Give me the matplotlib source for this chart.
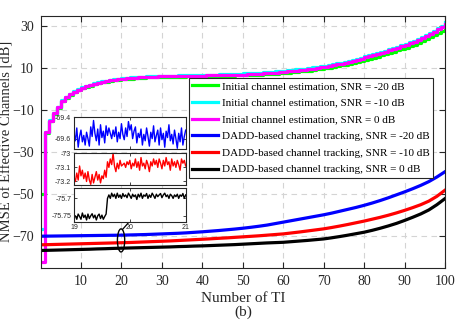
import numpy as np
import matplotlib
matplotlib.use("Agg")
import matplotlib.pyplot as plt
from matplotlib.patches import Ellipse

# ---------------- data ----------------
ti_init = list(range(0, 101))          # stairs positions (TI)
init_first = {"g": -50.0, "c": -66.7, "m": -82.5}   # value before TI 1

init_m = [-20.5, -15, -11.5, -8.5, -5.5, -3.8, -2.3, -1.2, -0.2, 0.7,
          1.4, 2.0, 2.6, 3.1, 3.5, 3.9, 4.2, 4.5, 4.8, 5.0,
          5.2, 5.4, 5.55, 5.7, 5.8, 5.9, 6.0, 6.05, 6.1, 6.15,
          6.2, 6.25, 6.3, 6.3, 6.35, 6.4, 6.4, 6.45, 6.5, 6.5,
          6.55, 6.6, 6.6, 6.65, 6.7, 6.75, 6.8, 6.85, 6.9, 7.0,
          7.1, 7.2, 7.3, 7.4, 7.5, 7.65, 7.8, 7.95, 8.1, 8.3,
          8.5, 8.7, 8.9, 9.1, 9.35, 9.6, 9.85, 10.1, 10.35, 10.6,
          11.0, 11.4, 11.8, 12.2, 12.6, 13.1, 13.6, 14.1, 14.6, 15.2,
          15.7, 16.2, 16.8, 17.3, 17.9, 18.5, 19.1, 19.7, 20.4, 21.1,
          21.8, 22.6, 23.4, 24.3, 25.2, 26.2, 27.3, 28.5, 29.8, 31.2]

init_c = [-20.3, -14.8, -11.3, -8.3, -5.3, -3.6, -2.1, -1.0, 0.0, 0.9,
          1.6, 2.2, 2.8, 3.3, 3.7, 4.1, 4.4, 4.7, 5.0, 5.2,
          5.4, 5.6, 5.75, 5.9, 6.0, 6.1, 6.2, 6.25, 6.3, 6.35,
          6.4, 6.45, 6.5, 6.55, 6.6, 6.65, 6.7, 6.75, 6.8, 6.85,
          6.9, 6.95, 7.0, 7.05, 7.1, 7.15, 7.2, 7.3, 7.4, 7.5,
          7.6, 7.7, 7.8, 7.9, 8.0, 8.15, 8.3, 8.45, 8.6, 8.8,
          9.0, 9.2, 9.4, 9.6, 9.85, 10.1, 10.35, 10.6, 10.85, 11.1,
          11.5, 11.9, 12.3, 12.7, 13.1, 13.6, 14.1, 14.6, 15.1, 15.7,
          16.2, 16.7, 17.3, 17.8, 18.4, 19.0, 19.6, 20.2, 20.9, 21.6,
          22.3, 23.1, 23.9, 24.8, 25.7, 26.7, 27.8, 29.0, 30.3, 31.8]

init_g = [-20.8, -15.3, -11.8, -8.8, -5.8, -4.1, -2.6, -1.5, -0.5, 0.4,
          1.1, 1.7, 2.3, 2.8, 3.2, 3.6, 3.9, 4.2, 4.5, 4.7,
          4.9, 5.1, 5.25, 5.4, 5.5, 5.6, 5.7, 5.75, 5.8, 5.85,
          5.9, 5.95, 6.0, 6.0, 6.05, 6.1, 6.1, 6.15, 6.2, 6.2,
          6.25, 6.3, 6.3, 6.35, 6.4, 6.45, 6.5, 6.55, 6.6, 6.65,
          6.7, 6.8, 6.9, 7.0, 7.1, 7.2, 7.3, 7.45, 7.6, 7.75,
          7.9, 8.1, 8.3, 8.5, 8.7, 8.9, 9.15, 9.4, 9.65, 9.9,
          10.2, 10.55, 10.9, 11.3, 11.7, 12.1, 12.55, 13.0, 13.5, 14.0,
          14.5, 15.0, 15.55, 16.1, 16.65, 17.25, 17.85, 18.45, 19.1, 19.8,
          20.5, 21.25, 22.0, 22.85, 23.7, 24.65, 25.65, 26.75, 27.95, 29.4]

ti_dadd = list(range(0, 101, 2))
dadd_blue = [-70.0, -69.95, -69.9, -69.85, -69.8, -69.75, -69.7, -69.65, -69.6, -69.55,
             -69.5, -69.4, -69.3, -69.2, -69.05, -68.9, -68.75, -68.6, -68.4, -68.15,
             -67.9, -67.6, -67.3, -66.95, -66.6, -66.2, -65.75, -65.25, -64.7, -64.0,
             -63.3, -62.6, -61.9, -61.2, -60.5, -59.8, -59.0, -58.1, -57.2, -56.3,
             -55.3, -54.2, -53.0, -51.7, -50.3, -48.9, -47.4, -45.8, -44.0, -41.8, -39.3]
dadd_red = [-74.1, -74.0, -73.9, -73.8, -73.7, -73.6, -73.5, -73.4, -73.3, -73.2,
            -73.1, -73.0, -72.85, -72.7, -72.55, -72.4, -72.25, -72.05, -71.85, -71.65,
            -71.45, -71.25, -71.0, -70.8, -70.55, -70.3, -70.05, -69.8, -69.5, -69.2,
            -68.9, -68.45, -68.0, -67.5, -67.0, -66.5, -65.85, -65.15, -64.4, -63.6,
            -62.8, -61.9, -61.0, -60.0, -58.9, -57.7, -56.4, -55.0, -53.3, -51.0, -48.1]
dadd_black = [-76.8, -76.7, -76.6, -76.5, -76.4, -76.3, -76.2, -76.05, -75.95, -75.8,
              -75.7, -75.6, -75.5, -75.4, -75.3, -75.2, -75.1, -74.95, -74.85, -74.7,
              -74.6, -74.45, -74.3, -74.15, -74.0, -73.8, -73.6, -73.4, -73.2, -73.05,
              -72.9, -72.6, -72.3, -72.0, -71.65, -71.3, -70.75, -70.15, -69.5, -68.8,
              -68.1, -67.2, -66.2, -65.1, -63.9, -62.5, -61.0, -59.4, -57.5, -55.0, -52.1]

# zoomed inset data (TI 19..21)
zoom_blue = [-69.55, -69.62, -69.50, -69.68, -69.58, -69.52, -69.63, -69.57, -69.66, -69.54,
             -69.60, -69.67, -69.49, -69.58, -69.43, -69.55, -69.62, -69.51, -69.66, -69.47,
             -69.59, -69.53, -69.64, -69.48, -69.57, -69.50, -69.55, -69.60, -69.52, -69.58,
             -69.49, -69.63, -69.54, -69.60, -69.46, -69.56, -69.61, -69.50, -69.58, -69.44,
             -69.52, -69.47, -69.60, -69.53, -69.49, -69.64, -69.55, -69.59, -69.51, -69.66,
             -69.56, -69.62, -69.50, -69.58, -69.67, -69.54, -69.60, -69.48, -69.63, -69.57,
             -69.52, -69.66, -69.50, -69.61, -69.55, -69.68, -69.53, -69.59, -69.47, -69.62,
             -69.56, -69.65, -69.52, -69.60, -69.69, -69.55, -69.63, -69.50, -69.66, -69.58, -69.52]
zoom_red = [-73.17, -73.20, -73.14, -73.19, -73.09, -73.16, -73.12, -73.18, -73.14, -73.20,
            -73.13, -73.19, -73.22, -73.15, -73.21, -73.17, -73.13, -73.19, -73.15, -73.21,
            -73.16, -73.18, -73.12, -73.17, -73.06, -73.10, -73.04, -73.08, -73.00, -73.09,
            -73.13, -73.07, -73.11, -73.05, -73.09, -73.08, -73.07, -73.10, -73.06, -73.08,
            -73.05, -73.11, -73.07, -73.09, -73.04, -73.10, -73.06, -73.12, -73.03, -73.09,
            -73.07, -73.11, -73.05, -73.08, -73.13, -73.06, -73.09, -73.04, -73.08, -73.05,
            -73.10, -73.04, -73.07, -73.11, -73.05, -73.09, -73.03, -73.08, -73.06, -73.12,
            -73.04, -73.09, -73.06, -73.10, -73.05, -73.08, -73.12, -73.04, -73.07, -73.05, -73.09]
zoom_black = [-75.755, -75.75, -75.76, -75.745, -75.752, -75.76, -75.742, -75.755, -75.748, -75.762,
              -75.745, -75.758, -75.75, -75.744, -75.756, -75.748, -75.762, -75.75, -75.745, -75.758,
              -75.748, -75.76, -75.752, -75.745, -75.70, -75.69, -75.70, -75.685, -75.695, -75.688,
              -75.70, -75.685, -75.697, -75.69, -75.70, -75.686, -75.695, -75.69, -75.698, -75.685,
              -75.692, -75.70, -75.688, -75.695, -75.69, -75.703, -75.688, -75.696, -75.685, -75.70,
              -75.69, -75.694, -75.686, -75.70, -75.69, -75.697, -75.685, -75.692, -75.70, -75.688,
              -75.695, -75.69, -75.686, -75.698, -75.69, -75.685, -75.695, -75.69, -75.70, -75.688,
              -75.692, -75.70, -75.69, -75.695, -75.688, -75.70, -75.69, -75.694, -75.686, -75.70, -75.69]

labels = ["Initial channel estimation, SNR = -20 dB",
          "Initial channel estimation, SNR = -10 dB",
          "Initial channel estimation, SNR = 0 dB",
          "DADD-based channel tracking, SNR = -20 dB",
          "DADD-based channel tracking, SNR = -10 dB",
          "DADD-based channel tracking, SNR = 0 dB"]

xticks = [10, 20, 30, 40, 50, 60, 70, 80, 90, 100]
yticks = [30, 10, -10, -30, -50, -70]
inset_xticks = [19, 20, 21]
inset_blue_yticks = [-69.4, -69.6]
inset_blue_ylabels = ["-69.4", "-69.6"]
inset_red_yticks = [-73.0, -73.1, -73.2]
inset_red_ylabels = ["-73", "-73.1", "-73.2"]
inset_black_yticks = [-75.7, -75.75]
inset_black_ylabels = ["-75.7", "-75.75"]

# ---------------- figure ----------------
plt.rcParams['font.family'] = ['Liberation Serif', 'DejaVu Serif']
fig = plt.figure(figsize=(4.57, 3.26), dpi=100)
ax = fig.add_axes([0.0888, 0.1788, 0.8849, 0.7730])

lw = 2.3
ax.grid(True, linestyle=(0, (5, 4)), color='#d4d4d4', linewidth=0.8)
ax.set_axisbelow(True)

ax.step(ti_init, [init_first["g"]] + init_g, where='post', color='#00ff00', lw=lw, label=labels[0])
ax.step(ti_init, [init_first["c"]] + init_c, where='post', color='#00ffff', lw=lw, label=labels[1])
ax.step(ti_init, [init_first["m"]] + init_m, where='post', color='#ff00ff', lw=lw, label=labels[2])
ax.plot(ti_dadd, dadd_blue, color='#0000ff', lw=lw, label=labels[3])
ax.plot(ti_dadd, dadd_red, color='#ff0000', lw=lw, label=labels[4])
ax.plot(ti_dadd, dadd_black, color='#000000', lw=lw, label=labels[5])

ax.set_xlim(0, 100)
ax.set_ylim(-85, 35)
ax.set_xticks(xticks)
ax.set_yticks(yticks)
ax.tick_params(direction='in', length=4, width=0.8, top=True, right=True,
               labelsize=10, colors='#262626', pad=5)
for s in ax.spines.values():
    s.set_linewidth(0.8)
    s.set_color('#262626')

ax.set_xlabel("Number of TI", fontsize=11, labelpad=3, color='#262626')
ax.set_ylabel("NMSE of Effective Channels [dB]", fontsize=10.5, color='#262626')
ax.yaxis.set_label_coords(-0.068, 0.5)
fig.text(0.532, 0.043, "(b)", fontsize=11, ha='center', va='center', color='#262626')

leg = ax.legend(loc='upper left', bbox_to_anchor=(0.367, 0.753), fontsize=8,
                frameon=True, fancybox=False, framealpha=1, edgecolor='#262626',
                borderpad=0.3, borderaxespad=0, handlelength=2.3, handletextpad=0.35,
                labelspacing=0.62)
leg.get_frame().set_linewidth(0.8)

# ellipse + pointer line
ax.add_patch(Ellipse((19.9, -72.0), 1.8, 11.0, fill=False, edgecolor='black', lw=1.0, zorder=5))
ax.plot([20.3, 22.3], [-66.7, -62.3], color='black', lw=0.9, zorder=5)

# ---------------- inset ----------------
def make_inset(rect, data, color, yt, ylabs, ylim, show_x):
    ia = fig.add_axes(rect)
    xs = np.linspace(19, 21, len(data))
    ia.plot(xs, data, color=color, lw=1.0)
    ia.set_xlim(19, 21)
    ia.set_ylim(*ylim)
    ia.set_xticks(inset_xticks)
    ia.set_yticks(yt)
    ia.set_yticklabels(ylabs, family=['Liberation Sans', 'DejaVu Sans'], fontsize=5)
    if show_x:
        ia.set_xticklabels([str(v) for v in inset_xticks], family=['Liberation Sans', 'DejaVu Sans'], fontsize=5)
    else:
        ia.set_xticklabels([])
    ia.tick_params(direction='in', length=2, width=0.6, top=True, right=True, pad=2, colors='#262626')
    for s in ia.spines.values():
        s.set_linewidth(0.8)
        s.set_color('#262626')
    ia.set_facecolor('white')
    return ia

make_inset([0.1619, 0.542, 0.2444, 0.0982], zoom_blue, '#0000ff',
           inset_blue_yticks, inset_blue_ylabels, (-69.70, -69.40), False)
make_inset([0.1619, 0.4325, 0.2444, 0.0972], zoom_red, '#ff0000',
           inset_red_yticks, inset_red_ylabels, (-73.225, -73.0), False)
make_inset([0.1619, 0.3199, 0.2444, 0.1025], zoom_black, '#000000',
           inset_black_yticks, inset_black_ylabels, (-75.767, -75.671), True)

fig.savefig("out.png", dpi=100)
